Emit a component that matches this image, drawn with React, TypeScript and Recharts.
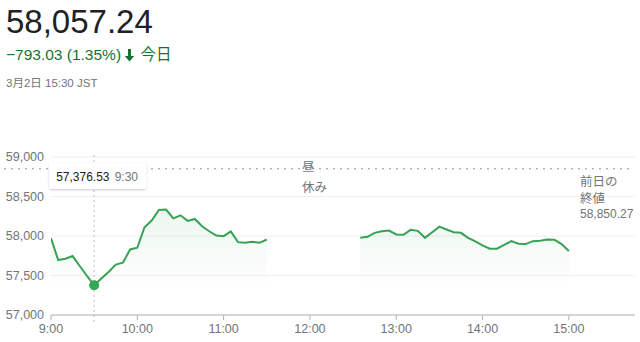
import React from 'react';
import { ComposedChart, Area, XAxis, YAxis, CartesianGrid, ReferenceLine, ReferenceDot } from 'recharts';

const morningTimes = ['9:00','9:05','9:10','9:15','9:20','9:25','9:30','9:35','9:40','9:45','9:50','9:55','10:00','10:05','10:10','10:15','10:20','10:25','10:30','10:35','10:40','10:45','10:50','10:55','11:00','11:05','11:10','11:15','11:20','11:25','11:30'];
const morningValues = [57970,57696,57713,57746,57620,57494,57376.53,57461,57545,57638,57663,57830,57851,58111,58195,58329,58335,58224,58262,58191,58216,58123,58060,58006,57998,58057,57922,57914,57927,57914,57956];
const afternoonTimes = ['12:35','12:40','12:45','12:50','12:55','13:00','13:05','13:10','13:15','13:20','13:25','13:30','13:35','13:40','13:45','13:50','13:55','14:00','14:05','14:10','14:15','14:20','14:25','14:30','14:35','14:40','14:45','14:50','14:55','15:00'];
const afternoonValues = [57977,57990,58040,58060,58069,58019,58015,58078,58065,57977,58048,58119,58082,58048,58040,57977,57931,57880,57839,57839,57889,57935,57902,57898,57935,57939,57956,57952,57898,57809];
const breakTime = '12:00';
const xTickLabels = ['9:00','10:00','11:00','12:00','13:00','14:00','15:00'];
const xDomainLabels = ['9:00','15:46'];
const yTicks = [57000, 57500, 58000, 58500, 59000];
const yDomain = [57000, 59000];
const prevClose = 58850.27;
const hoverTime = '9:30';
const headerPrice = '58,057.24';
const headerChange = '−793.03 (1.35%)';
const headerToday = '今日';
const headerDate = '3月2日 15:30 JST';

const toMin = (s: string) => { const [h, m] = s.split(':').map(Number); return h * 60 + m; };
const fmtTime = (v: number) => `${Math.floor(v / 60)}:${String(v % 60).padStart(2, '0')}`;

const data = [
  ...morningTimes.map((t, i) => ({ t: toMin(t), v: morningValues[i] as number | null })),
  { t: toMin(breakTime), v: null },
  ...afternoonTimes.map((t, i) => ({ t: toMin(t), v: afternoonValues[i] as number | null })),
];

const hoverIdx = morningTimes.indexOf(hoverTime);
const hoverValue = morningValues[hoverIdx];

const GREEN = '#37a154';
const GRAY = '#70757a';
const FONT = 'Arial, "Liberation Sans", sans-serif';
const CJK = 'Arial, "Liberation Sans", "Noto Sans CJK JP", sans-serif';

export default function App() {
  return (
    <div style={{ position: 'fixed', left: 0, top: 0, width: 640, height: 342, background: '#fff', fontFamily: FONT }}>
      <ComposedChart width={640} height={342} data={data} margin={{ top: 157, right: 5, left: 0, bottom: 0 }}>
        <defs>
          <linearGradient id="fillG" x1="0" y1="0" x2="0" y2="1">
            <stop offset="0%" stopColor="#34a853" stopOpacity={0.16} />
            <stop offset="75%" stopColor="#34a853" stopOpacity={0} />
          </linearGradient>
          <filter id="shadow" x="-20%" y="-40%" width="140%" height="180%">
            <feDropShadow dx="0" dy="1" stdDeviation="1.2" floodColor="#000" floodOpacity="0.2" />
          </filter>
        </defs>
        <CartesianGrid vertical={false} stroke="#efefef" />
        <XAxis
          dataKey="t"
          type="number"
          domain={[toMin(xDomainLabels[0]), toMin(xDomainLabels[1])]}
          ticks={xTickLabels.map(toMin)}
          tickFormatter={fmtTime}
          height={27}
          axisLine={{ stroke: '#b3b3b3' }}
          tickLine={{ stroke: '#b3b3b3' }}
          tickSize={5}
          tickMargin={4}
          tick={{ fill: GRAY, fontSize: 12.5, fontFamily: FONT }}
          allowDataOverflow
        />
        <YAxis
          type="number"
          domain={yDomain}
          ticks={yTicks}
          width={51}
          axisLine={false}
          tickLine={false}
          tickSize={0}
          tickMargin={7}
          tick={{ fill: GRAY, fontSize: 12.5, fontFamily: FONT }}
          tickFormatter={(v: number) => v.toLocaleString('en-US')}
        />
        <ReferenceLine
          y={prevClose}
          shape={(p: any) => (
            <line x1={5} x2={p.x2} y1={p.y1} y2={p.y2} stroke="#8a8a8a" strokeWidth={1.6} strokeLinecap="round" strokeDasharray="0 7" />
          )}
        />
        <ReferenceLine
          x={toMin(hoverTime)}
          shape={(p: any) => (
            <line x1={p.x1} x2={p.x2} y1={Math.min(p.y1, p.y2) - 2} y2={Math.max(p.y1, p.y2) + 7} stroke="#bdbdbd" strokeDasharray="2 3" />
          )}
        />
        <Area
          type="linear"
          dataKey="v"
          stroke={GREEN}
          strokeWidth={2}
          fill="url(#fillG)"
          isAnimationActive={false}
          dot={false}
          activeDot={false}
          connectNulls={false}
        />
        <ReferenceDot
          x={toMin(hoverTime)}
          y={hoverValue}
          shape={(p: any) => (
            <g>
              <circle cx={p.cx} cy={p.cy} r={5} fill="#34a853" />
              <g filter="url(#shadow)">
                <rect x={p.cx - 45} y={163} width={97} height={26} rx={2} fill="#fff" />
              </g>
              <text x={p.cx - 38} y={180.5} fontSize={12} fill="#202124" fontFamily={FONT}>
                {hoverValue.toLocaleString('en-US', { minimumFractionDigits: 2 })}
              </text>
              <text x={p.cx + 20.5} y={180.5} fontSize={12} fill={GRAY} fontFamily={FONT}>{hoverTime}</text>
            </g>
          )}
        />
      </ComposedChart>
      <svg width={640} height={342} style={{ position: 'absolute', left: 0, top: 0, pointerEvents: 'none' }}>
        <text x={6} y={33} fontSize={33} fill="#202124" fontFamily={FONT}>{headerPrice}</text>
        <text x={6} y={60} fontSize={15.5} fill="#137333" fontFamily={FONT}>
          {headerChange}
        </text>
        <path d="M128 49 h3 v7 h3.2 l-4.7 5.6 l-4.7 -5.6 h3.2 z" fill="#137333" />
        <text x={140.5} y={60} fontSize={15.5} fill="#137333" fontFamily={CJK}>{headerToday}</text>
        <text x={6} y={87} fontSize={11.5} fill={GRAY} fontFamily={CJK}>{headerDate}</text>
        <text x={302} y={171} fontSize={12.5} fill={GRAY} fontFamily={CJK}>昼</text>
        <text x={302} y={192} fontSize={12.5} fill={GRAY} fontFamily={CJK}>休み</text>
        <text x={580} y={186} fontSize={12.5} fill={GRAY} fontFamily={CJK}>前日の</text>
        <text x={580} y={203} fontSize={12.5} fill={GRAY} fontFamily={CJK}>終値</text>
        <text x={580} y={218} fontSize={12} fill={GRAY} fontFamily={FONT}>{prevClose.toLocaleString('en-US')}</text>
      </svg>
    </div>
  );
}
